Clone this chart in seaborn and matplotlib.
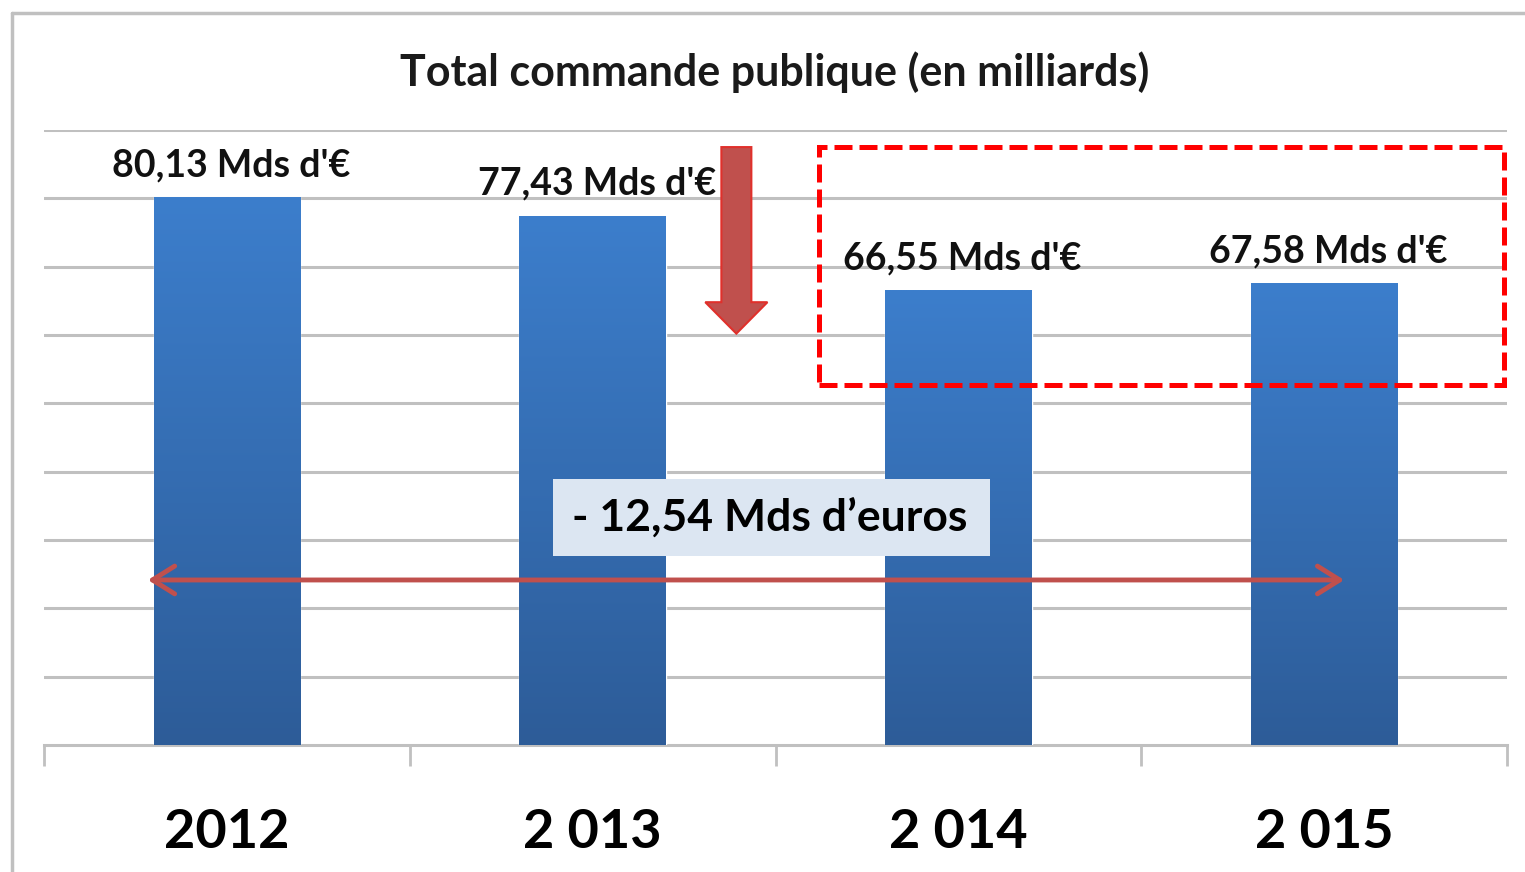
import numpy as np
import pandas as pd
import matplotlib
matplotlib.use("Agg")
import matplotlib.pyplot as plt
import seaborn as sns
from matplotlib.patches import Rectangle, FancyArrow
from matplotlib.colors import LinearSegmentedColormap

# Donnees
annees = ["2012", "2 013", "2 014", "2 015"]
montants = [80.13, 77.43, 66.55, 67.58]
titre = "Total commande publique (en milliards)"
ecart = "- 12,54 Mds d\u2019euros"

df = pd.DataFrame({"annee": annees, "montant": montants})

sns.set_style("white")
plt.rcParams["font.family"] = ["Lato", "DejaVu Sans"]
plt.rcParams["font.weight"] = "bold"

gris = "#C0C0C0"
rouge = "#C0504D"

fig = plt.figure(figsize=(15.25, 8.72), dpi=100)
ax = fig.add_axes([44 / 1525, 1 - 745 / 872, (1507 - 44) / 1525, (745 - 130) / 872])

sns.barplot(data=df, x="annee", y="montant", ax=ax, color="#3A78C4",
            width=0.4, saturation=1, zorder=3)

# degrade vertical sur chaque barre
degrade = LinearSegmentedColormap.from_list("bleu", ["#2D5C98", "#3C7ECC"])
grad = np.linspace(0, 1, 256).reshape(-1, 1)
for p in ax.patches:
    x0, y0 = p.get_x(), p.get_y()
    im = ax.imshow(grad, cmap=degrade, aspect="auto", origin="lower",
                   extent=[x0, x0 + p.get_width(), y0, y0 + p.get_height()],
                   zorder=3)
    im.set_clip_path(p)
ax.set_xlim(-0.5, len(annees) - 0.5)
ax.set_ylim(0, 90)

# grille et axe
ax.set_yticks(np.arange(10, 91, 10))
ax.yaxis.grid(True, color=gris, lw=2.2, zorder=0)
ax.set_yticklabels([])
ax.tick_params(axis="y", length=0)
for s in ["top", "left", "right"]:
    ax.spines[s].set_visible(False)
ax.spines["bottom"].set_color(gris)
ax.spines["bottom"].set_linewidth(2.2)
ax.set_xticks(np.arange(-0.5, len(annees), 1), minor=True)
ax.tick_params(axis="x", which="minor", bottom=True, length=15, width=2,
               color=gris, direction="out")
ax.tick_params(axis="x", which="major", bottom=True, length=0, pad=45,
               labelsize=39, labelcolor="#000000")
ax.set_xlabel("")
ax.set_ylabel("")

# etiquettes des barres
for i, v in enumerate(montants):
    txt = f"{v:.2f}".replace(".", ",") + " Mds d'\u20ac"
    ax.annotate(txt, xy=(i, v), xytext=(3, 23), textcoords="offset points",
                ha="center", va="center", fontsize=27, fontweight="bold",
                color="#111111", zorder=5)

fig.text(0.508, 1 - 72 / 872, titre, ha="center", va="center",
         fontsize=31, fontweight="bold", color="#1A1A1A")

# fleche vers le bas
ax.add_patch(FancyArrow(1.393, 87.5, 0, -27.3, width=0.082, head_width=0.17,
                        head_length=4.6, length_includes_head=True,
                        facecolor=rouge, edgecolor="#E0302B", lw=1.5, zorder=6))

# cadre pointille rouge
ax.add_patch(Rectangle((1.62, 52.7), 1.872, 34.8, fill=False, edgecolor="#FF0000",
                       lw=3.6, linestyle=(0, (3.6, 1.4)), zorder=6, clip_on=False))

# double fleche horizontale
ax.annotate("", xy=(3.055, 24.15), xytext=(-0.216, 24.15),
            arrowprops=dict(arrowstyle="<->, head_length=0.8, head_width=0.5",
                            color=rouge, lw=3.5, mutation_scale=20,
                            shrinkA=0, shrinkB=0), zorder=7)

# encadre de l'ecart
ax.add_patch(Rectangle((0.893, 27.66), 1.194, 11.27, facecolor="#DCE6F2",
                       edgecolor="none", zorder=8))
ax.text(1.485, 33.3, ecart, ha="center", va="center", fontsize=32,
        fontweight="bold", color="#000000", zorder=9)

# bordure exterieure
fig.add_artist(plt.Line2D([12 / 1525, 1], [1 - 13 / 872, 1 - 13 / 872], color=gris, lw=2.5))
fig.add_artist(plt.Line2D([12 / 1525, 12 / 1525], [0, 1 - 13 / 872], color=gris, lw=2.5))

fig.savefig("out.png", dpi=100)
